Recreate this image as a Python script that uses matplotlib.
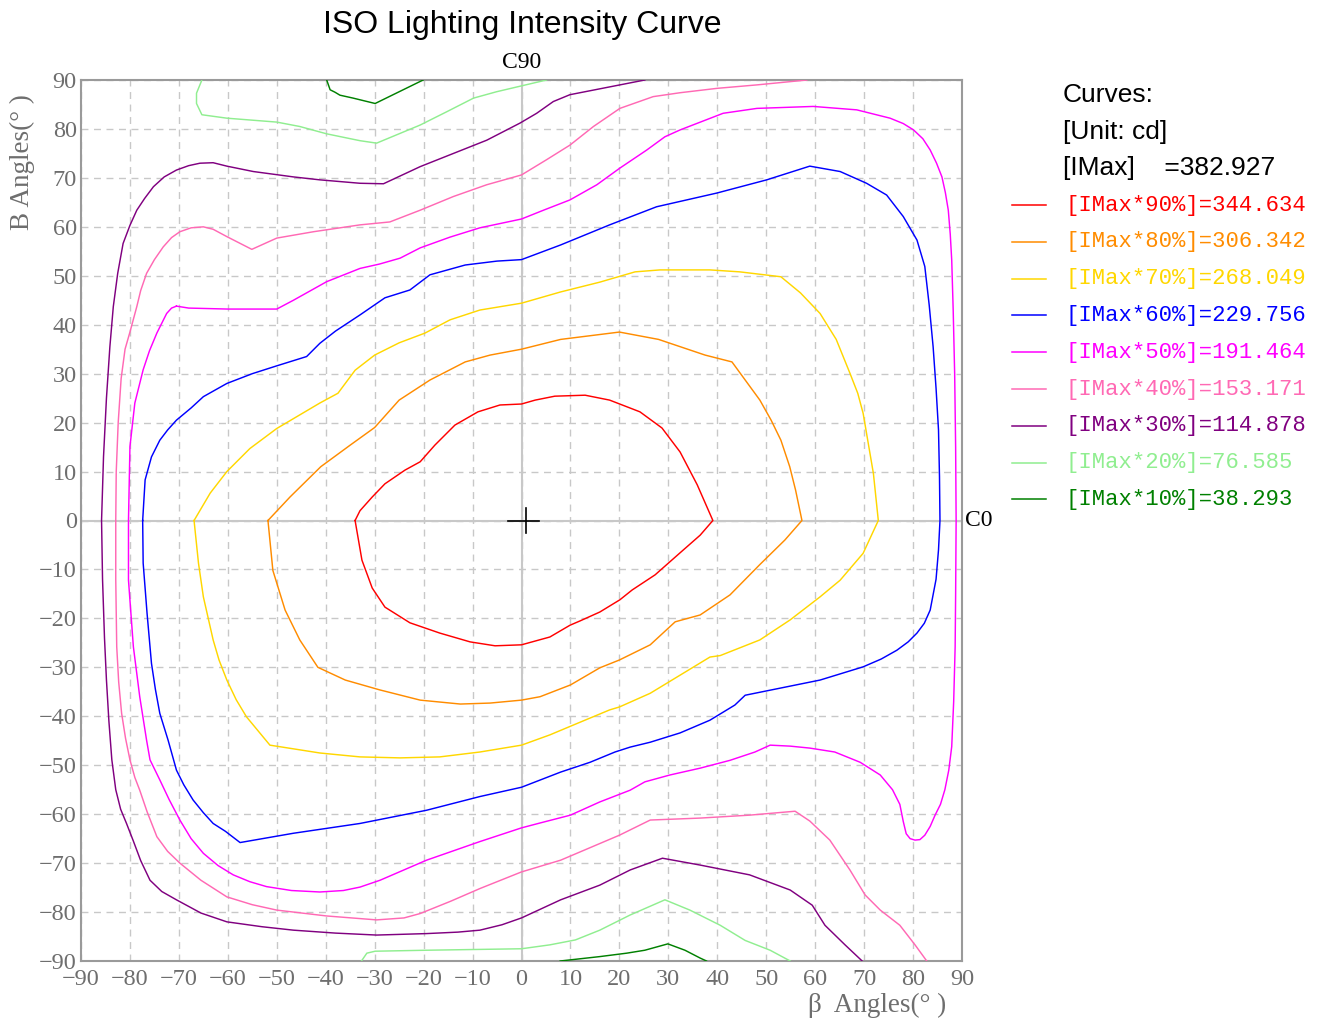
import matplotlib
matplotlib.use("Agg")
import matplotlib.pyplot as plt
from matplotlib.lines import Line2D

# ---------------- data (degrees) ----------------
ticks = list(range(-90, 91, 10))
tick_labels = [str(t) for t in ticks]

imax = 382.927
levels = ["[IMax*90%]=344.634", "[IMax*80%]=306.342", "[IMax*70%]=268.049",
          "[IMax*60%]=229.756", "[IMax*50%]=191.464", "[IMax*40%]=153.171",
          "[IMax*30%]=114.878", "[IMax*20%]=76.585", "[IMax*10%]=38.293"]
level_colors = ["#ff0000", "#ff8c00", "#ffd700", "#0000ff", "#ff00ff",
                "#ff69b4", "#800080", "#90ee90", "#008000"]

red_x = [-34.0, -33.0, -30.5, -27.9, -23.8, -20.7, -17.7, -13.6, -8.9, -4.4, 0.0, 2.8, 6.8, 13.0, 18.0,
         24.2, 28.7, 32.4, 35.9, 39.1, 36.5, 32.4, 27.3, 22.6, 20.1, 16.0, 12.0, 9.9, 5.8, 0.0,
         -5.4, -10.5, -16.7, -22.8, -27.9, -30.5, -32.6, -34.0]
red_y = [0.0, 2.0, 4.8, 7.5, 10.3, 12.0, 15.4, 19.5, 22.2, 23.6, 23.8, 24.6, 25.4, 25.6, 24.6,
         22.2, 18.9, 14.0, 7.3, 0.0, -3.0, -6.6, -11.1, -14.2, -16.2, -18.7, -20.5, -21.4, -23.8, -25.4,
         -25.6, -24.8, -23.0, -20.9, -17.7, -13.8, -8.1, 0.0]

orange_x = [-51.8, -47.3, -41.0, -35.0, -30.0, -25.0, -18.7, -11.5, -6.4, 0.0, 8.0, 20.0, 28.0, 37.5, 43.0,
            48.7, 51.0, 53.0, 54.8, 56.0, 57.3, 53.8, 48.7, 42.6, 36.5, 31.4, 26.3, 20.0, 16.0, 10.0, 3.8, 0.0,
            -6.4, -12.5, -20.7, -29.0, -36.0, -41.6, -45.3, -48.3, -50.8, -51.8]
orange_y = [0.0, 4.8, 11.0, 15.4, 19.0, 24.6, 28.7, 32.4, 33.8, 35.0, 37.0, 38.5, 37.0, 33.8, 32.4,
            24.6, 20.5, 16.4, 11.0, 6.2, 0.0, -4.0, -9.0, -15.2, -19.3, -20.7, -25.4, -28.5, -30.1, -33.6, -36.0, -36.7,
            -37.3, -37.5, -36.7, -34.6, -32.6, -30.0, -24.4, -18.3, -10.2, 0.0]

yellow_x = [-66.9, -63.6, -60.2, -55.5, -50.0, -41.2, -37.5, -34.0, -30.0, -25.0, -19.7, -14.6, -8.5, 0.0,
            8.0, 16.0, 23.2, 28.3, 38.5, 44.6, 53.0, 57.0, 61.0, 64.3, 67.1, 68.7, 69.8, 71.9, 72.9, 69.8,
            65.1, 61.0, 54.9, 48.7, 40.6, 38.5, 32.4, 26.3, 20.0, 18.0, 12.0, 5.8, 0.0, -8.5, -16.7, -24.8,
            -33.0, -41.2, -51.4, -56.2, -58.3, -60.2, -61.8, -63.0, -65.0, -66.0, -66.9]
yellow_y = [0.0, 5.6, 10.0, 14.7, 18.8, 24.0, 26.0, 30.7, 33.8, 36.3, 38.3, 41.0, 43.0, 44.4,
            46.7, 48.7, 50.8, 51.2, 51.2, 50.8, 49.8, 46.5, 42.3, 37.0, 30.1, 26.0, 21.9, 9.6, 0.0, -6.7,
            -12.2, -15.6, -20.3, -24.4, -27.6, -27.9, -31.6, -35.3, -38.1, -38.7, -41.2, -43.8, -45.9, -47.3, -48.3, -48.5,
            -48.3, -47.5, -45.9, -40.1, -36.6, -32.6, -28.5, -24.4, -15.6, -8.7, 0.0]

blue_x = [-77.4, -77.1, -76.9, -75.6, -73.9, -72.3, -70.5, -67.5, -65.0, -60.2, -55.0, -50.0, -43.9, -41.2,
          -38.0, -33.0, -27.9, -22.8, -18.7, -11.5, -5.0, 0.0, 8.0, 18.0, 27.6, 39.9, 50.1, 58.9, 65.1,
          70.5, 74.6, 78.0, 80.8, 82.4, 83.3, 84.1, 84.7, 85.2, 85.4, 85.5, 85.2, 84.7, 83.5, 82.3, 80.8,
          79.0, 76.7, 73.5, 69.8, 61.0, 45.7, 43.6, 38.5, 32.4, 26.3, 22.2, 19.1, 14.0, 8.0, 0.0, -8.5,
          -19.4, -33.0, -46.6, -57.5, -60.5, -63.0, -65.0, -67.1, -69.0, -70.5, -72.2, -73.9, -74.8, -75.6,
          -76.5, -77.3, -77.4]
blue_y = [0.0, 5.0, 8.3, 13.0, 16.4, 18.5, 20.5, 23.0, 25.3, 28.0, 30.0, 31.6, 33.5, 36.2,
          38.7, 42.0, 45.5, 47.1, 50.2, 52.2, 53.0, 53.3, 56.3, 60.4, 64.1, 66.9, 69.6, 72.4, 71.3,
          68.9, 66.5, 62.1, 57.3, 51.9, 44.0, 35.5, 27.0, 18.5, 9.0, 0.0, -6.0, -12.0, -18.3, -21.0, -23.0,
          -24.8, -26.5, -28.3, -29.9, -32.6, -35.7, -37.7, -40.8, -43.4, -45.3, -46.3, -47.3, -49.4, -51.4, -54.5, -56.4,
          -59.2, -61.9, -63.9, -65.8, -63.5, -61.9, -59.7, -57.1, -54.0, -51.0, -44.9, -39.4, -34.5, -29.2,
          -19.0, -8.7, 0.0]

magenta_x = [-70.5, -68.0, -60.0, -50.0, -46.6, -39.8, -33.0, -29.0, -24.8, -20.7, -14.6, -8.5, 0.0, 4.5,
             9.9, 15.4, 20.1, 25.6, 29.3, 32.4, 41.2, 48.1, 59.6, 68.5, 75.3, 78.0, 80.1, 82.0, 83.5, 84.8,
             85.9, 86.6, 87.2, 87.6, 87.9, 88.2, 88.5, 88.7, 88.8, 88.7, 88.6, 88.3, 87.9, 87.3, 86.5, 85.6,
             84.5, 83.5, 82.4, 81.4, 80.4, 79.4, 78.6, 78.0, 77.3, 75.8, 73.3, 69.2, 64.0, 58.9, 54.9, 50.8,
             47.7, 42.6, 36.5, 30.3, 25.2, 22.2, 16.0, 10.0, 3.8, 0.0, -8.5, -19.4, -28.9, -33.0, -36.4, -41.2,
             -47.0, -52.1, -55.5, -58.9, -62.0, -65.0, -67.5, -69.8, -72.0, -73.9, -75.9, -76.6, -78.0, -79.3,
             -80.3, -80.3, -80.0, -79.0, -77.3, -76.0, -74.5, -72.5, -71.5, -70.5]
magenta_y = [43.8, 43.4, 43.2, 43.2, 45.0, 48.8, 51.5, 52.4, 53.6, 55.7, 57.9, 59.8, 61.6, 63.4,
             65.5, 68.6, 72.0, 75.7, 78.4, 79.8, 83.2, 84.2, 84.6, 83.9, 82.2, 81.1, 79.8, 78.0, 75.7, 73.0,
             70.2, 67.0, 63.4, 58.5, 53.2, 43.0, 30.0, 15.0, 0.0, -15.0, -25.8, -37.0, -46.2, -51.0, -55.0, -58.0,
             -60.2, -62.5, -64.3, -65.2, -65.3, -65.0, -64.0, -61.5, -58.0, -55.0, -52.0, -49.4, -47.3, -46.5, -46.1, -45.9,
             -47.3, -49.0, -50.6, -52.0, -53.4, -55.1, -57.5, -60.2, -61.8, -62.8, -65.6, -69.4, -73.5, -74.9, -75.6, -75.9,
             -75.6, -74.8, -73.8, -72.4, -70.5, -68.0, -65.0, -61.2, -57.0, -53.0, -48.9, -44.9, -36.0, -25.8,
             -12.2, 0.0, 15.1, 24.0, 30.8, 34.7, 38.3, 42.3, 43.4, 43.8]

pink_x = [58.3, 48.1, 40.0, 32.4, 26.9, 20.1, 14.7, 9.9, 5.1, 0.0, -7.1, -13.9, -20.7, -26.9, -33.0, -42.5,
          -50.0, -55.1, -60.2, -63.0, -65.0, -67.5, -69.8, -71.5, -73.2, -75.0, -76.6, -77.8, -78.6, -80.0,
          -81.0, -81.8, -82.4, -82.8, -82.9, -82.9, -82.7, -82.3, -81.7, -80.9, -80.0, -79.0, -78.0, -76.5,
          -74.5, -72.3, -69.8, -65.5, -60.2, -55.0, -50.0, -39.8, -29.6, -24.0, -20.7, -14.5, -8.5, 0.0,
          8.0, 16.0, 20.0, 26.3, 36.5, 46.6, 55.9, 58.9, 63.0, 67.1, 70.2, 73.3, 77.3, 80.4, 82.8]
pink_y = [90.0, 89.0, 88.3, 87.4, 86.6, 84.2, 80.5, 76.7, 73.7, 70.6, 68.6, 66.2, 63.4, 61.0, 60.4, 59.0,
          57.7, 55.4, 58.0, 59.5, 60.0, 59.8, 59.0, 57.8, 55.9, 53.3, 50.5, 47.0, 43.7, 38.5,
          35.0, 29.0, 20.0, 10.0, 0.0, -12.0, -25.8, -33.0, -39.4, -44.5, -48.9, -52.5, -55.1, -59.5,
          -64.6, -67.6, -70.0, -73.5, -76.9, -78.5, -79.6, -80.8, -81.6, -81.2, -80.3, -77.8, -75.2, -71.8,
          -69.4, -66.0, -64.3, -61.2, -60.8, -60.2, -59.4, -61.4, -65.3, -71.4, -76.5, -79.6, -82.7, -86.7, -90.0]

purple_x = [25.2, 20.1, 9.9, 6.5, 3.1, -0.3, -7.1, -13.9, -20.7, -28.2, -33.0, -41.2, -46.6, -54.8, -60.2,
            -63.0, -65.7, -68.0, -70.5, -73.0, -75.2, -77.0, -78.6, -80.0, -81.4, -82.5, -83.4, -84.1, -84.8,
            -85.4, -85.8, -85.6, -85.2, -84.8, -84.3, -83.7, -82.9, -81.9, -80.7, -79.3, -77.8, -75.9, -73.5,
            -70.5, -65.5, -60.2, -53.0, -46.6, -38.0, -29.6, -19.4, -13.0, -8.5, -4.0, 0.0, 8.0, 16.0, 22.2,
            28.8, 36.5, 46.6, 54.9, 59.4, 62.0, 66.1, 69.6]
purple_y = [90.0, 89.0, 87.0, 85.6, 83.2, 81.2, 77.7, 75.0, 72.3, 68.8, 68.9, 69.6, 70.2, 71.3, 72.4,
            73.1, 73.0, 72.5, 71.6, 70.2, 68.2, 65.8, 63.4, 60.3, 56.6, 50.5, 43.7, 35.5, 25.0,
            13.0, 0.0, -12.0, -24.0, -32.6, -41.0, -48.9, -55.0, -59.0, -61.9, -65.5, -69.5, -73.5, -75.8,
            -77.5, -80.2, -82.0, -83.0, -83.7, -84.3, -84.7, -84.4, -84.1, -83.7, -82.6, -81.2, -77.5, -74.5, -71.4,
            -69.0, -70.4, -72.4, -75.5, -78.6, -82.7, -86.7, -90.0]

lgreen_top_x = [-65.3, -66.4, -66.4, -65.3, -60.2, -50.0, -45.3, -39.8, -33.0, -29.6, -20.7, -15.3, -9.8,
                -5.1, 0.0, 5.1]
lgreen_top_y = [90.0, 87.3, 85.2, 82.9, 82.2, 81.4, 80.5, 79.0, 77.6, 77.1, 80.8, 83.5, 86.3,
                87.6, 88.8, 90.0]
lgreen_bot_x = [-32.7, -31.6, -29.9, -19.4, 0.0, 5.8, 11.0, 16.0, 22.2, 29.3, 34.4, 40.6, 45.7, 50.8, 54.9]
lgreen_bot_y = [-90.0, -88.4, -88.0, -87.8, -87.5, -86.7, -85.7, -83.7, -80.6, -77.5, -79.6, -82.7, -85.8, -87.8, -90.0]

green_top_x = [-39.8, -39.1, -38.1, -37.1, -34.4, -29.9, -20.1]
green_top_y = [90.0, 88.0, 87.5, 86.9, 86.3, 85.2, 90.0]
green_bot_x = [7.9, 16.0, 21.5, 25.2, 29.9, 33.4, 36.5, 37.8]
green_bot_y = [-90.0, -89.1, -88.4, -87.8, -86.5, -87.8, -89.4, -90.0]

curves = [
    (red_x, red_y, 0), (orange_x, orange_y, 1), (yellow_x, yellow_y, 2),
    (blue_x, blue_y, 3), (magenta_x, magenta_y, 4), (pink_x, pink_y, 5),
    (purple_x, purple_y, 6), (lgreen_top_x, lgreen_top_y, 7), (lgreen_bot_x, lgreen_bot_y, 7),
    (green_top_x, green_top_y, 8), (green_bot_x, green_bot_y, 8),
]

# ---------------- figure ----------------
W, H = 1317, 1019
fig = plt.figure(figsize=(W / 100, H / 100), dpi=100)
ax = fig.add_axes([81 / W, 1 - 961 / H, (962 - 81) / W, (961 - 80) / H])

serif = ["Liberation Serif", "DejaVu Serif"]
mono = ["Liberation Mono", "DejaVu Sans Mono"]
sans = ["Liberation Sans", "DejaVu Sans"]
gray = "#6e6e6e"

ax.set_xlim(-90, 90)
ax.set_ylim(-90, 90)
ax.set_xticks(ticks)
ax.set_yticks(ticks)
ax.set_xticklabels([t.replace("-", "\u2212") for t in tick_labels], family=serif, fontsize=17.5, color=gray)
ax.set_yticklabels([t.replace("-", "\u2212") for t in tick_labels], family=serif, fontsize=17.5, color=gray)
ax.tick_params(axis="x", length=0, pad=6)
ax.tick_params(axis="y", length=0, pad=3)
ax.grid(True, color="#c8c8c8", linestyle=(0, (5, 4)), linewidth=1.0)
ax.axhline(0, color="#c8c8c8", linewidth=1.5, zorder=1)
ax.axvline(0, color="#c8c8c8", linewidth=1.5, zorder=1)
for s in ax.spines.values():
    s.set_color("#9a9a9a")
    s.set_linewidth(1.5)

for xs, ys, k in curves:
    ax.plot(xs, ys, color=level_colors[k], linewidth=1.05, zorder=3, clip_on=True,
            solid_joinstyle="round")

# center cross
ax.plot([-2.7, 3.5], [0, 0], color="black", linewidth=1.2, zorder=4)
ax.plot([1.0, 1.0], [-2.6, 2.6], color="black", linewidth=1.2, zorder=4)

def fx(px):
    return px / W

def fy(py):
    return 1 - py / H

fig.text(fx(522), fy(25), "ISO Lighting Intensity Curve", family=sans, fontsize=23,
         ha="center", va="center", color="black")
fig.text(fx(522), fy(63), "C90", family=serif, fontsize=17, ha="center", va="center", color="black")
fig.text(fx(965), fy(521), "C0", family=serif, fontsize=17, ha="left", va="center", color="black")
fig.text(fx(22), fy(162), "B Angles(° )", family=serif, fontsize=19.5, rotation=90,
         ha="center", va="center", color=gray)
fig.text(fx(877), fy(1005), "β  Angles(° )", family=serif, fontsize=19.5,
         ha="center", va="center", color=gray)

fig.text(fx(1063), fy(95), "Curves:", family=sans, fontsize=19, ha="left", va="center")
fig.text(fx(1063), fy(132), "[Unit: cd]", family=sans, fontsize=19, ha="left", va="center")
fig.text(fx(1063), fy(168), "[IMax]    =%.3f" % imax, family=sans, fontsize=19, ha="left", va="center")

for i, (lab, col) in enumerate(zip(levels, level_colors)):
    yy = 205 + i * 36.8
    fig.add_artist(Line2D([fx(1012), fx(1046)], [fy(yy), fy(yy)], color=col, linewidth=1.1,
                          transform=fig.transFigure))
    fig.text(fx(1065), fy(yy), lab, family=mono, fontsize=16, ha="left", va="center", color=col)

fig.savefig("out.png", dpi=100)
